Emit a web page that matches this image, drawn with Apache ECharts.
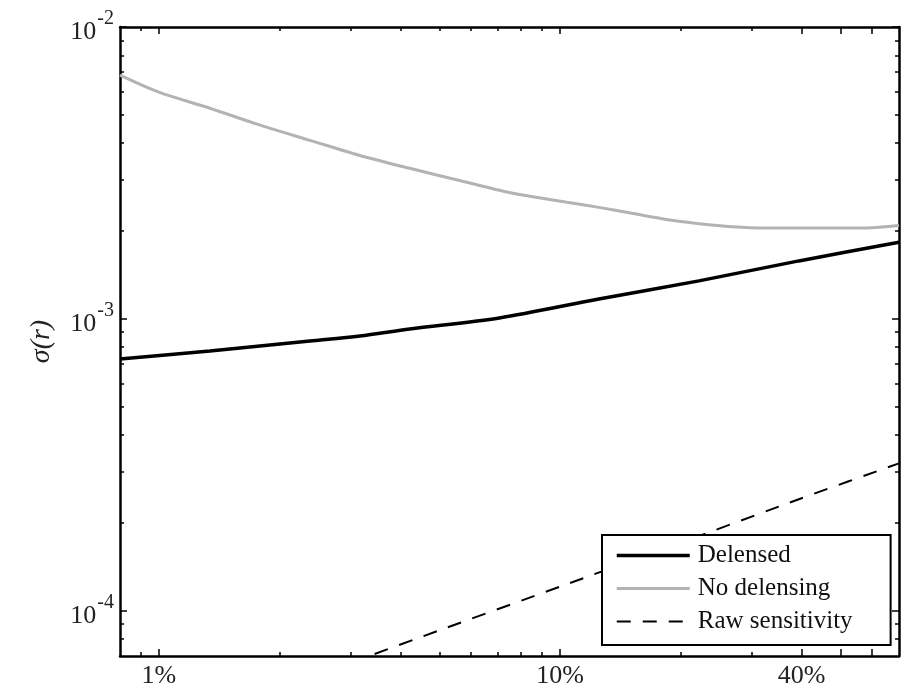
<!DOCTYPE html>
<html><head><meta charset="utf-8">
<script src="https://cdn.jsdelivr.net/npm/echarts@6/dist/echarts.min.js"></script>
<style>html,body{margin:0;padding:0;background:#fff}#c{width:917px;height:692px}</style>
</head><body><div id="c"></div>
<script>
// ---- data (x in percent, y = sigma(r)) ----
const seriesNames = ['Delensed', 'No delensing', 'Raw sensitivity'];
const delensedX = [0.8, 1.34, 2.38, 3.17, 4.22, 7.06, 12.5, 22.2, 39.4, 70];
const delensedY = [7.29e-4, 7.76e-4, 8.40e-4, 8.74e-4, 9.24e-4, 1.007e-3, 1.17e-3, 1.35e-3, 1.58e-3, 1.83e-3];
const noDelensX = [0.8, 1.0, 1.34, 1.79, 2.38, 3.17, 4.22, 5.62, 7.48, 10.4, 12.5, 15.1, 18.4, 22.2, 26.9, 32.7, 40, 47.7, 57.9, 70];
const noDelensY = [6.84e-3, 5.98e-3, 5.27e-3, 4.61e-3, 4.09e-3, 3.63e-3, 3.28e-3, 2.98e-3, 2.71e-3, 2.51e-3, 2.41e-3, 2.30e-3, 2.19e-3, 2.12e-3, 2.07e-3, 2.05e-3, 2.05e-3, 2.05e-3, 2.05e-3, 2.09e-3];
const rawX = [3.0, 5, 10, 20, 40, 70];
const rawY = [6.63e-5, 8.57e-5, 1.21e-4, 1.71e-4, 2.43e-4, 3.2e-4];

const xTickLabels = [1, 10, 40];
const xMajorTicks = [1, 10, 40, 50, 60];
const xMinorTicks = [0.9, 2, 3, 4, 5, 6, 7, 8, 9, 20, 30];
const yTickLabels = [1e-4, 1e-3, 1e-2];
const yMajorTicks = [1e-4, 1e-3, 1e-2];
const yMinorTicks = [8e-5, 9e-5, 2e-4, 3e-4, 4e-4, 5e-4, 6e-4, 7e-4, 8e-4, 9e-4, 2e-3, 3e-3, 4e-3, 5e-3, 6e-3, 7e-3, 8e-3, 9e-3];
const xRange = [0.8, 70];
const yRange = [7e-5, 1e-2];

const FONT = '"Liberation Serif", "Times New Roman", serif';
const zip = (xs, ys) => xs.map((x, i) => [x, ys[i]]);

function xAxisDef(position, ticks, len, withLine, labels) {
  return {
    type: 'log', position: position, min: xRange[0], max: xRange[1],
    axisLine: { show: withLine, onZero: false, lineStyle: { color: '#000', width: 2.5 } },
    axisTick: { show: true, inside: true, length: len, customValues: ticks, lineStyle: { color: '#000', width: 1.5 } },
    axisLabel: labels ? {
      show: true, customValues: labels, margin: 7,
      formatter: v => v + '%', fontFamily: FONT, fontSize: 26, color: '#222'
    } : { show: false },
    splitLine: { show: false }, minorTick: { show: false }
  };
}
function yAxisDef(position, ticks, len, withLine, labels) {
  const ax = {
    type: 'log', position: position, min: yRange[0], max: yRange[1],
    axisLine: { show: withLine, onZero: false, lineStyle: { color: '#000', width: 2.5 } },
    axisTick: { show: true, inside: true, length: len, customValues: ticks, lineStyle: { color: '#000', width: 1.5 } },
    axisLabel: labels ? {
      show: true, customValues: labels, margin: 6,
      formatter: v => '{b|10}{s|' + Math.round(Math.log10(v)) + '}',
      rich: {
        b: { fontFamily: FONT, fontSize: 26, color: '#222', padding: [10, 1, 0, 0] },
        s: { fontFamily: FONT, fontSize: 20, color: '#222', verticalAlign: 'top' }
      }
    } : { show: false },
    splitLine: { show: false }, minorTick: { show: false }
  };
  if (labels) {
    ax.name = 'σ(r)';
    ax.nameLocation = 'middle';
    ax.nameGap = 64;
    ax.nameTextStyle = { fontFamily: FONT, fontStyle: 'italic', fontSize: 28, color: '#222' };
  }
  return ax;
}

const chart = echarts.init(document.getElementById('c'), null, { renderer: 'canvas' });
chart.setOption({
  animation: false,
  backgroundColor: '#fff',
  grid: { left: 120, top: 27, right: 18, bottom: 36, containLabel: false },
  xAxis: [
    xAxisDef('bottom', xMajorTicks, 7, true, xTickLabels),
    xAxisDef('bottom', xMinorTicks, 4, false, null),
    xAxisDef('top', xMajorTicks, 7, true, null),
    xAxisDef('top', xMinorTicks, 4, false, null)
  ],
  yAxis: [
    yAxisDef('left', yMajorTicks, 7, true, yTickLabels),
    yAxisDef('left', yMinorTicks, 4, false, null),
    yAxisDef('right', yMajorTicks, 7, true, null),
    yAxisDef('right', yMinorTicks, 4, false, null)
  ],
  legend: {
    data: [
      { name: seriesNames[0], lineStyle: { width: 3.5, color: '#000' } },
      { name: seriesNames[1], lineStyle: { width: 3, color: '#b3b3b3' } },
      { name: seriesNames[2], lineStyle: { width: 2, color: '#000', type: [14, 12] } }
    ],
    orient: 'vertical', left: 602, top: 535,
    itemWidth: 73, itemHeight: 14, itemGap: 8,
    padding: [8, 38, 11, 13],
    itemStyle: { opacity: 0 },
    borderColor: '#000', borderWidth: 2, backgroundColor: '#fff',
    textStyle: { fontFamily: FONT, fontSize: 25, color: '#111', lineHeight: 25, padding: [0, 0, 0, 3] }
  },
  series: [
    { name: seriesNames[0], type: 'line', xAxisIndex: 0, yAxisIndex: 0, data: zip(delensedX, delensedY),
      symbol: 'none', smooth: 0.3, lineStyle: { color: '#000', width: 3.5 }, itemStyle: { color: '#000' }, z: 4 },
    { name: seriesNames[1], type: 'line', xAxisIndex: 0, yAxisIndex: 0, data: zip(noDelensX, noDelensY),
      symbol: 'none', smooth: 0.3, lineStyle: { color: '#b3b3b3', width: 3 }, itemStyle: { color: '#b3b3b3' }, z: 3 },
    { name: seriesNames[2], type: 'line', xAxisIndex: 0, yAxisIndex: 0, data: zip(rawX, rawY),
      symbol: 'none', smooth: 0.2, lineStyle: { color: '#000', width: 2, type: [14, 12] }, itemStyle: { color: '#000' }, z: 2 }
  ]
});
</script>
</body></html>
